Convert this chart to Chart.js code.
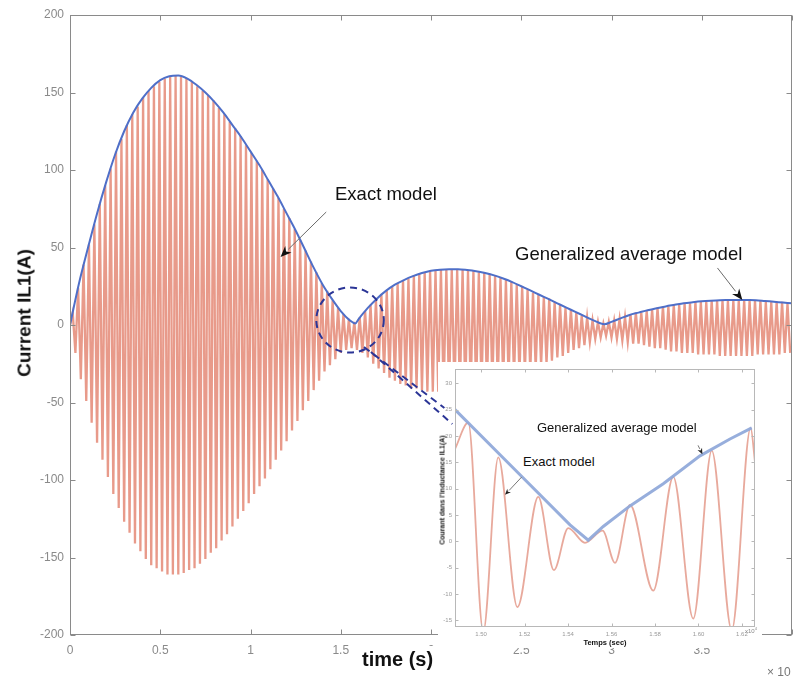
<!DOCTYPE html>
<html><head><meta charset="utf-8">
<script src="https://cdn.jsdelivr.net/npm/chart.js@4.4.1/dist/chart.umd.min.js"></script>
<style>
html,body{margin:0;padding:0;background:#fff;overflow:hidden;width:795px;height:680px;}
#wrap{position:relative;width:795px;height:680px;overflow:hidden;font-family:"Liberation Sans",Arial,Helvetica,sans-serif;}
#main{position:absolute;left:0;top:0;width:800px;height:680px;}
#insetBox{position:absolute;left:438px;top:362px;width:324px;height:286px;background:transparent;}
#inset{width:324px;height:285px;display:block;}
.t{position:absolute;white-space:nowrap;line-height:1;color:#111;}
</style></head><body>
<div id="wrap">
<canvas id="main" width="800" height="680"></canvas>
<div id="insetBox"><canvas id="inset" width="324" height="285"></canvas></div>
<div class="t" style="left:24px;top:313px;font-size:19px;font-weight:bold;transform:translate(-50%,-50%) rotate(-90deg);">Current IL1(A)</div>
<div class="t" style="left:362px;top:646px;font-size:20px;font-weight:bold;background:#fff;padding:3px 6px 0 0;">time (s)</div>
<div class="t" style="left:335px;top:185px;font-size:18.5px;">Exact model</div>
<div class="t" style="left:515px;top:245px;font-size:18.5px;">Generalized average model</div>
<div class="t" style="left:767px;top:666px;font-size:12px;color:#777;">× 10</div>
<div class="t" style="left:537px;top:421px;font-size:13px;background:#fff;">Generalized average model</div>
<div class="t" style="left:519px;top:452px;font-size:13px;background:#fff;padding:3px 4px;">Exact model</div>
<div class="t" style="left:442px;top:490px;font-size:7px;font-weight:bold;transform:translate(-50%,-50%) rotate(-90deg);">Courant dans l'inductance IL1(A)</div>
<div class="t" style="left:605px;top:643px;font-size:7.5px;font-weight:bold;transform:translate(-50%,-50%);">Temps (sec)</div>
<div class="t" style="left:745px;top:627px;font-size:6px;color:#888;">x10<sup style="font-size:4px">4</sup></div>
</div>
<script>
// ---------------- DATA ----------------
// Exact model: successive peak values of the oscillation, sampled every exactStep
const exactStep = 0.015;
const exactPeaks = [
0,8,-18,24,-35,39,-49,52,-63,65,
-76,78,-87,90,-98,101,-109,112,-118,120,
-127,129,-134,136,-141,141,-146,147,-151,151,
-155,154,-157,157,-159,159,-161,160,-161,161,
-161,160,-160,159,-158,157,-157,154,-154,151,
-151,148,-147,145,-144,140,-139,136,-135,131,
-130,127,-125,122,-120,116,-115,111,-109,106,
-104,100,-99,94,-93,88,-87,82,-81,75,
-75,69,-68,62,-62,55,-55,48,-49,41,
-42,34,-36,27,-30,22,-26,16,-22,11,
-18,7,-16,4,-15,2,-16,5,-18,9,
-21,13,-25,16,-28,20,-31,22,-34,25,
-36,27,-38,29,-39,30,-41,32,-41,33,
-42,34,-43,35,-43,35,-43,36,-44,36,
-44,36,-44,36,-43,36,-43,35,-43,35,
-42,34,-41,34,-41,33,-39,32,-38,31,
-37,29,-35,28,-34,26,-32,25,-31,23,
-30,21,-28,20,-26,18,-25,17,-23,15,
-21,13,-20,11,-18,10,-16,8,-15,6,
-13,5,-11,3,-9,2,-8,1,-7,2,
-8,3,-9,4,-10,5,-11,7,-12,8,
-12,8,-13,9,-14,10,-15,11,-15,12,
-16,12,-17,13,-17,13,-18,14,-18,14,
-18,15,-19,15,-19,15,-19,16,-19,16,
-20,16,-20,16,-20,16,-20,16,-20,16,
-20,16,-20,16,-19,16,-19,15,-19,15,
-19,15,-19,15,-18,14,-18];
// Generalized average model (envelope)
const avgTime = [0,0.05,0.1,0.15,0.2,0.25,0.3,0.35,0.4,0.45,0.5,0.55,0.6,0.65,0.7,0.75,0.8,0.85,0.9,0.95,1.0,1.05,1.1,1.15,1.2,1.25,1.3,1.35,1.4,1.45,1.5,1.55,1.58,1.6,1.65,1.7,1.75,1.8,1.85,1.9,1.95,2.0,2.05,2.1,2.15,2.2,2.25,2.3,2.35,2.4,2.45,2.5,2.55,2.6,2.65,2.7,2.75,2.8,2.85,2.9,2.96,3.0,3.05,3.1,3.15,3.2,3.25,3.3,3.35,3.4,3.45,3.5,3.55,3.6,3.65,3.7,3.75,3.8,3.85,3.9,3.95,4.0];
const avgValue = [0,27,50,72,92,110,125,137,146,153,158,160.5,161,159,155,150,144,137,129,121,112,103,93,83,72,61,49,37,26,17,9,3,1,4,11,17,22,26,29,31.5,33.5,35,35.7,36,36,35.5,34.7,33.5,32,30,27.7,25,22.3,19.5,16.8,14,11.2,8.5,5.7,3,0.5,2,4.3,6.5,8,9.5,10.8,12,13,14,14.7,15.3,15.7,16,16.1,16.2,16.1,16,15.5,15,14.5,14];
const xTickLabels = ['0','0.5','1','1.5','2','2.5','3','3.5'];
const yTickValues = [-200,-150,-100,-50,0,50,100,150,200];
// Inset (zoom on the first envelope minimum)
const insetExactTime  = [1.488,1.4941,1.5010,1.5079,1.5167,1.5263,1.5335,1.5401,1.5478,1.5559,1.5616,1.5685,1.5792,1.5884,1.5976,1.6061,1.6153,1.6240,1.626];
const insetExactValue = [17.5,22.5,-17.2,15.9,-12.5,8.4,-5.5,2.5,-0.3,2.0,-4.1,6.9,-9.4,12.2,-14.7,17.2,-16.9,21.5,15.0];
const insetAvgTime  = [1.488,1.5148,1.5409,1.5493,1.5562,1.5685,1.5838,1.6007,1.6145,1.6245];
const insetAvgValue = [25.0,13.9,3.1,0.2,2.8,6.7,10.9,16.2,19.4,21.5];

// ---------------- annotations (data coordinates) ----------------
const mainNotes = {
  exactArrow: {from:[1.4195,72.9], to:[1.1664,43.9]},
  avgArrow: {from:[3.587,36.8], to:[3.725,16.1]},
  zoomCircle: {center:[1.5516,3.2], rx:0.187, ry:21},
  zoomLinks: [[[1.6286,-14.2],[2.0743,-53.5]], [[1.667,-17.4],[2.118,-63.9]]]
};
const insetNotes = {
  exactArrow: {from:[1.5187,12.2], to:[1.511,8.8]},
  avgArrow: {from:[1.5998,18.2], to:[1.6018,16.5]}
};
const insetPanel = {left:438, top:362, width:324, height:286};

Chart.defaults.font.family = '"Liberation Sans", Arial, Helvetica, sans-serif';

function drawArrow(ctx,x1,y1,x2,y2,lineColor,headColor,hl,hw){
  const a=Math.atan2(y2-y1,x2-x1);
  const bx=x2-hl*Math.cos(a), by=y2-hl*Math.sin(a);
  ctx.strokeStyle=lineColor; ctx.lineWidth=1; ctx.setLineDash([]);
  ctx.beginPath(); ctx.moveTo(x1,y1); ctx.lineTo(bx,by); ctx.stroke();
  ctx.fillStyle=headColor; ctx.beginPath(); ctx.moveTo(x2,y2);
  ctx.lineTo(bx+hw*Math.sin(a), by-hw*Math.cos(a));
  ctx.lineTo(x2-hl*0.7*Math.cos(a), y2-hl*0.7*Math.sin(a));
  ctx.lineTo(bx-hw*Math.sin(a), by+hw*Math.cos(a));
  ctx.closePath(); ctx.fill();
}

const framePlugin = {
  id:'frame',
  afterDatasetsDraw(chart,args,opts){
    const {ctx,chartArea:a,scales:{x,y}}=chart;
    ctx.save();
    ctx.strokeStyle=opts.color; ctx.lineWidth=1; ctx.setLineDash([]);
    const l=Math.round(a.left)+0.5, t=Math.round(a.top)+0.5, r=Math.round(a.right)-0.5, b=Math.round(a.bottom)-0.5;
    ctx.strokeRect(l,t,r-l,b-t);
    const L=opts.len;
    ctx.beginPath();
    x.ticks.forEach(tk=>{const px=Math.round(x.getPixelForValue(tk.value))+0.5; ctx.moveTo(px,b); ctx.lineTo(px,b-L); ctx.moveTo(px,t); ctx.lineTo(px,t+L);});
    y.ticks.forEach(tk=>{const py=Math.round(y.getPixelForValue(tk.value))+0.5; ctx.moveTo(l,py); ctx.lineTo(l+L,py); ctx.moveTo(r,py); ctx.lineTo(r-L,py);});
    ctx.stroke(); ctx.restore();
  }
};

const mainNotesPlugin = {
  id:'mainNotes',
  afterDraw(chart){
    const {ctx,scales:{x,y}}=chart;
    const P=(p)=>[x.getPixelForValue(p[0]), y.getPixelForValue(p[1])];
    ctx.save();
    let f=P(mainNotes.exactArrow.from), to=P(mainNotes.exactArrow.to);
    drawArrow(ctx,f[0],f[1],to[0],to[1],'#6a6a6a','#111',11,4.5);
    f=P(mainNotes.avgArrow.from); to=P(mainNotes.avgArrow.to);
    drawArrow(ctx,f[0],f[1],to[0],to[1],'#6a6a6a','#111',11,4.5);
    // white panel that hosts the inset (inset chart canvas is laid over it)
    ctx.fillStyle='#fff';
    ctx.fillRect(insetPanel.left,insetPanel.top,insetPanel.width,insetPanel.height);
    const c=P(mainNotes.zoomCircle.center);
    const rx=Math.abs(x.getPixelForValue(mainNotes.zoomCircle.rx)-x.getPixelForValue(0));
    const ry=Math.abs(y.getPixelForValue(mainNotes.zoomCircle.ry)-y.getPixelForValue(0));
    ctx.strokeStyle='#2b3596'; ctx.lineWidth=2; ctx.setLineDash([7,5]);
    ctx.beginPath(); ctx.ellipse(c[0],c[1],rx,ry,0,0,Math.PI*2); ctx.stroke();
    mainNotes.zoomLinks.forEach(seg=>{const a=P(seg[0]), b=P(seg[1]); ctx.beginPath(); ctx.moveTo(a[0],a[1]); ctx.lineTo(b[0],b[1]); ctx.stroke();});
    ctx.restore();
  }
};

const insetNotesPlugin = {
  id:'insetNotes',
  afterDraw(chart){
    const {ctx,scales:{x,y}}=chart;
    const P=(p)=>[x.getPixelForValue(p[0]), y.getPixelForValue(p[1])];
    ctx.save();
    let f=P(insetNotes.exactArrow.from), to=P(insetNotes.exactArrow.to);
    drawArrow(ctx,f[0],f[1],to[0],to[1],'#777','#222',6,2.5);
    f=P(insetNotes.avgArrow.from); to=P(insetNotes.avgArrow.to);
    drawArrow(ctx,f[0],f[1],to[0],to[1],'#777','#222',6,2.5);
    ctx.restore();
  }
};

const exactData = exactPeaks.map((v,i)=>({x:i*exactStep, y:v}));
const avgData = avgTime.map((t,i)=>({x:t, y:avgValue[i]}));

new Chart(document.getElementById('main'),{
  type:'line',
  data:{datasets:[
    {label:'Generalized average model',data:avgData,borderColor:'#4f6fc8',borderWidth:2,pointRadius:0,cubicInterpolationMode:'monotone',order:0},
    {label:'Exact model',data:exactData,borderColor:'rgba(216,86,60,0.6)',borderWidth:2.3,pointRadius:0,tension:0,order:1}
  ]},
  options:{
    responsive:false,animation:false,devicePixelRatio:1,events:[],
    layout:{padding:{top:15,right:3,left:0,bottom:0}},
    plugins:{legend:{display:false},tooltip:{enabled:false},frame:{color:'#8a8a8a',len:5}},
    scales:{
      x:{type:'linear',min:0,max:4,
        grid:{display:false,drawTicks:false},border:{display:false},
        ticks:{stepSize:0.5,autoSkip:false,maxRotation:0,padding:8,color:'#8a8a8a',font:{size:12},
          callback:(v)=>{const i=Math.round(v/0.5); return (Math.abs(v-i*0.5)<1e-9 && i<xTickLabels.length)?xTickLabels[i]:'';}},
        afterFit:(s)=>{s.height=45;}},
      y:{type:'linear',min:-200,max:200,
        grid:{display:false,drawTicks:false},border:{display:false},
        afterBuildTicks:(s)=>{s.ticks=yTickValues.map(v=>({value:v}));},
        ticks:{padding:6,color:'#8a8a8a',font:{size:12}},
        afterFit:(s)=>{s.width=70;}}
    }
  },
  plugins:[framePlugin,mainNotesPlugin]
});

new Chart(document.getElementById('inset'),{
  type:'line',
  data:{datasets:[
    {label:'Generalized average model',data:insetAvgTime.map((t,i)=>({x:t,y:insetAvgValue[i]})),borderColor:'rgba(145,170,218,0.95)',borderWidth:3,pointRadius:0,tension:0,order:0},
    {label:'Exact model',data:insetExactTime.map((t,i)=>({x:t,y:insetExactValue[i]})),borderColor:'rgba(230,160,145,0.9)',borderWidth:1.8,pointRadius:0,cubicInterpolationMode:'monotone',order:1}
  ]},
  options:{
    responsive:false,animation:false,devicePixelRatio:1,events:[],
    layout:{padding:{top:3,right:7,left:0,bottom:0}},
    plugins:{legend:{display:false},tooltip:{enabled:false},frame:{color:'#b8b8b8',len:3}},
    scales:{
      x:{type:'linear',min:1.488,max:1.626,
        grid:{display:false,drawTicks:false},border:{display:false},
        ticks:{stepSize:0.02,includeBounds:false,autoSkip:false,maxRotation:0,padding:4,color:'#999',font:{size:6},callback:(v)=>(+v).toFixed(2)},
        afterFit:(s)=>{s.height=20;}},
      y:{type:'linear',min:-16.29,max:32.77,
        grid:{display:false,drawTicks:false},border:{display:false},
        ticks:{stepSize:5,includeBounds:false,padding:3,color:'#999',font:{size:6}},
        afterFit:(s)=>{s.width=17;}}
    }
  },
  plugins:[framePlugin,insetNotesPlugin]
});
</script>
</body></html>
